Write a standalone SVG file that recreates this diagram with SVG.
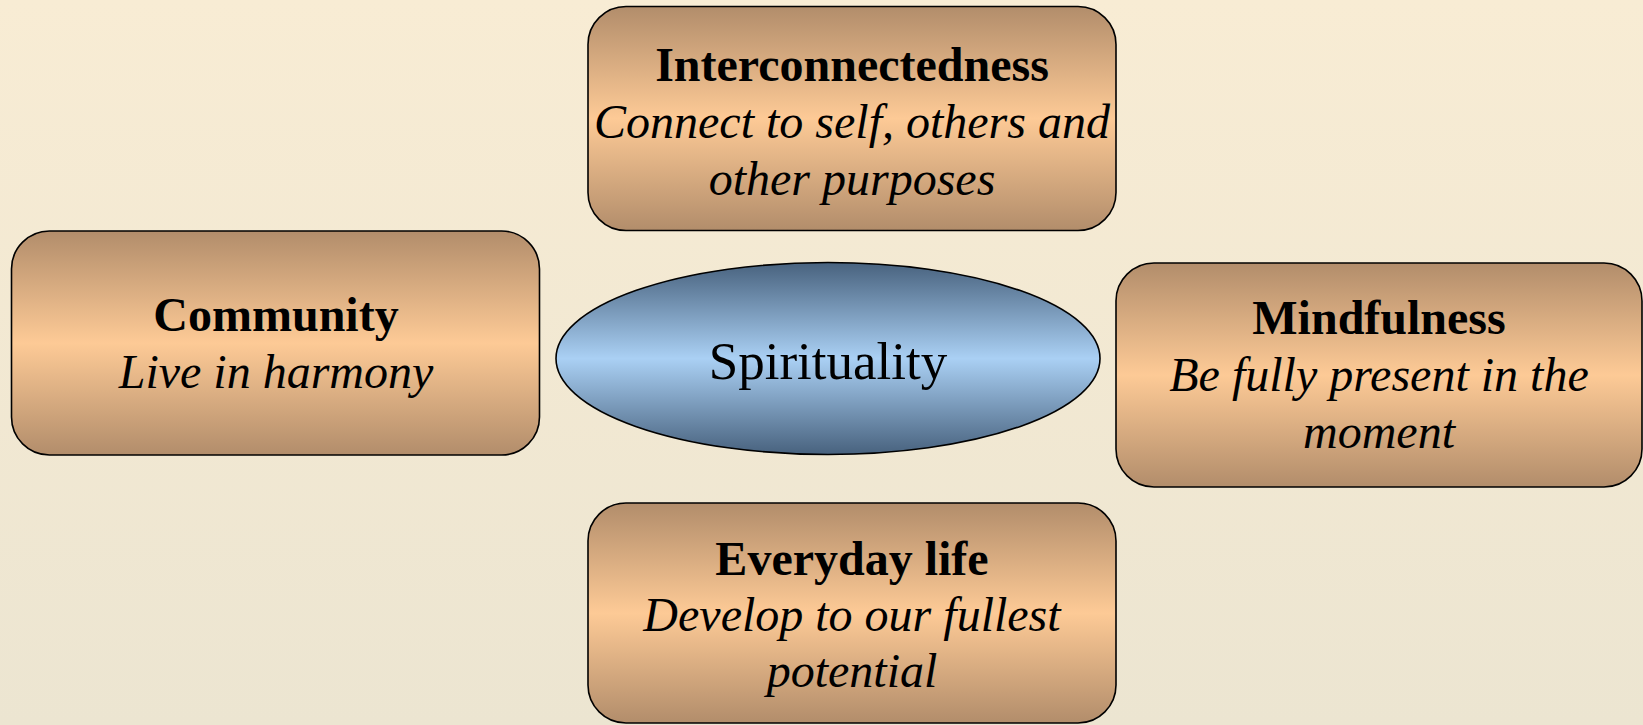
<svg xmlns="http://www.w3.org/2000/svg" width="1643" height="725" viewBox="0 0 1643 725">
  <defs>
    <linearGradient id="bg" x1="0" y1="0" x2="0" y2="1">
      <stop offset="0" stop-color="#f8ecd4"/>
      <stop offset="1" stop-color="#ece5d1"/>
    </linearGradient>
    <linearGradient id="tan" x1="0" y1="0" x2="0" y2="1">
      <stop offset="0" stop-color="#b28d6b"/>
      <stop offset="0.5" stop-color="#fdca96"/>
      <stop offset="1" stop-color="#b28d6b"/>
    </linearGradient>
    <linearGradient id="blue" x1="0" y1="0" x2="0" y2="1">
      <stop offset="0" stop-color="#48627e"/>
      <stop offset="0.5" stop-color="#aad0f4"/>
      <stop offset="1" stop-color="#48627e"/>
    </linearGradient>
  </defs>
  <style>
    .box { fill: url(#tan); stroke: #000; stroke-width: 1.6; }
    .ell { fill: url(#blue); stroke: #000; stroke-width: 1.6; }
    .t { font-family: "Liberation Serif", "Times New Roman", serif; font-size: 48px; text-anchor: middle; fill: #000; }
    .b { font-weight: bold; }
    .i { font-style: italic; }
    .c { font-size: 53px; }
  </style>
  <rect x="0" y="0" width="1643" height="725" fill="url(#bg)"/>
  <g id="connectors"></g>
  <g id="node-spirituality">
    <ellipse class="ell" cx="828" cy="358.5" rx="272" ry="96"/>
    <text class="t c" x="828" y="379">Spirituality</text>
  </g>
  <g id="node-interconnectedness">
    <rect class="box" x="588" y="6.5" width="528" height="224" rx="38"/>
    <text class="t b" x="852" y="81">Interconnectedness</text>
    <text class="t i" x="852" y="138">Connect to self, others and</text>
    <text class="t i" x="852" y="195">other purposes</text>
  </g>
  <g id="node-community">
    <rect class="box" x="11.5" y="231" width="528" height="224" rx="38"/>
    <text class="t b" x="276" y="331">Community</text>
    <text class="t i" x="276" y="388">Live in harmony</text>
  </g>
  <g id="node-mindfulness">
    <rect class="box" x="1116" y="263" width="526" height="224" rx="38"/>
    <text class="t b" x="1379" y="334">Mindfulness</text>
    <text class="t i" x="1379" y="391">Be fully present in the</text>
    <text class="t i" x="1379" y="448">moment</text>
  </g>
  <g id="node-everyday">
    <rect class="box" x="588" y="503" width="528" height="220" rx="38"/>
    <text class="t b" x="852" y="575">Everyday life</text>
    <text class="t i" x="852" y="631">Develop to our fullest</text>
    <text class="t i" x="852" y="687">potential</text>
  </g>
</svg>
